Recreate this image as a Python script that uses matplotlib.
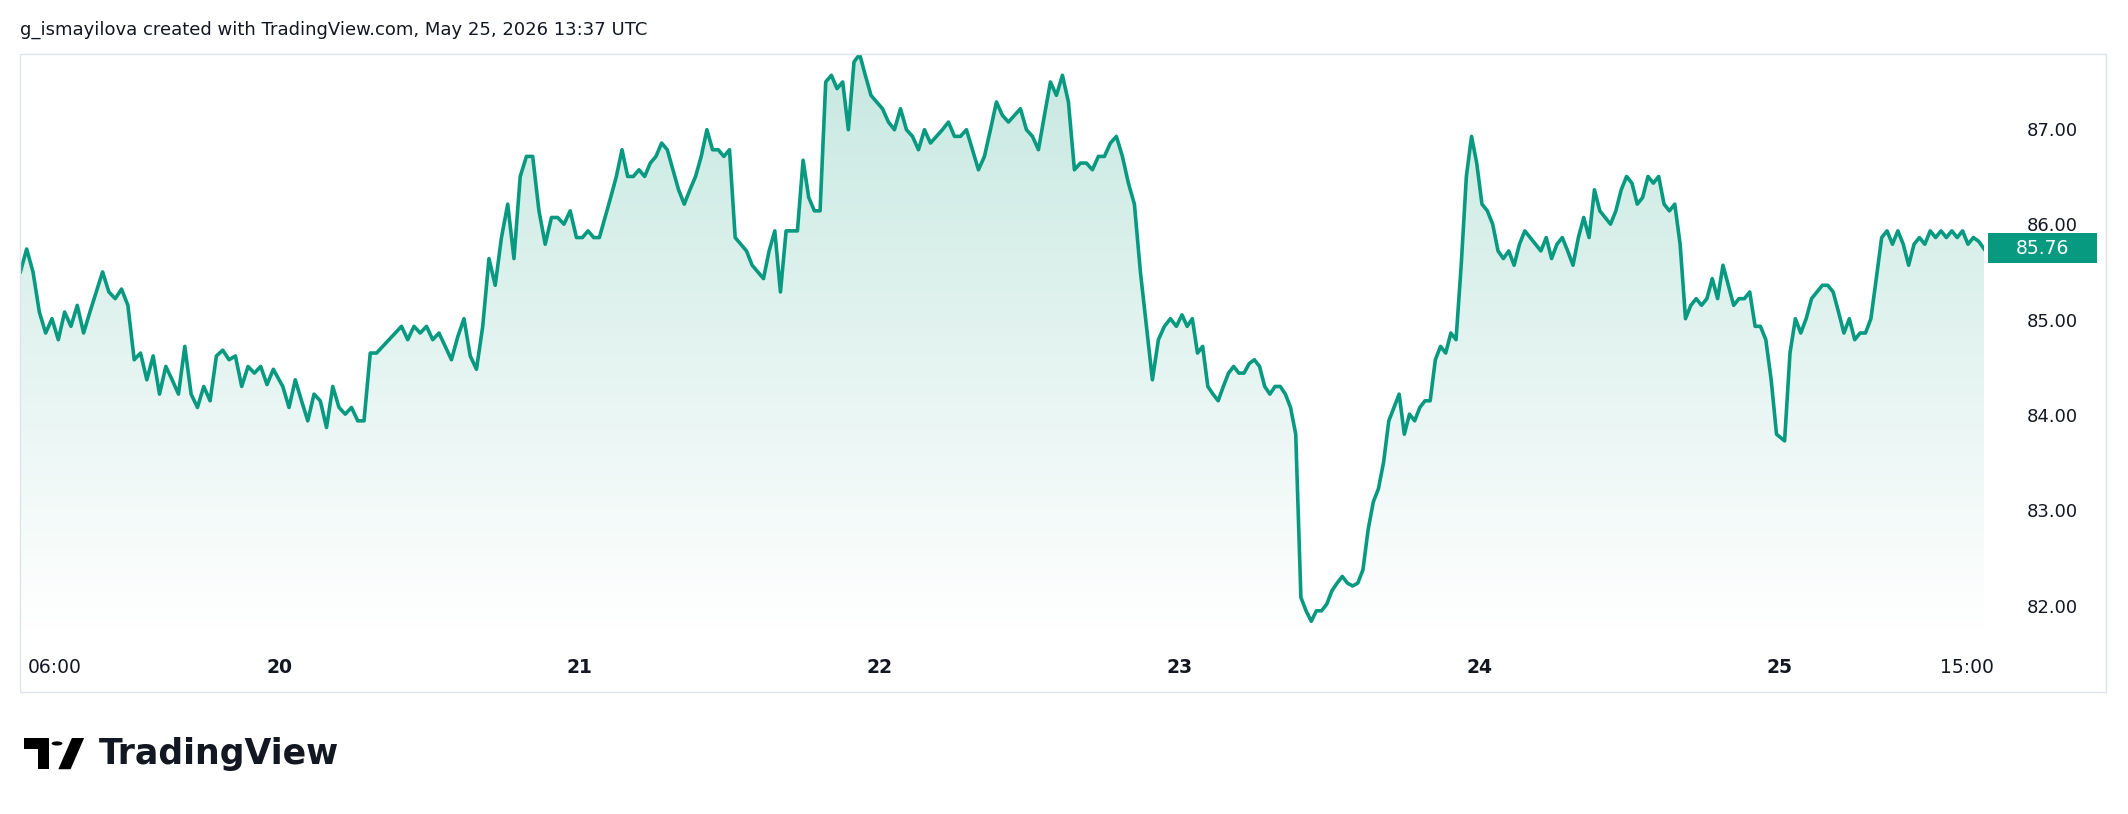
import numpy as np
import matplotlib
matplotlib.use("Agg")
import matplotlib.pyplot as plt
from matplotlib.patches import Rectangle, Polygon, Circle

# price segments per day (hours since 19 May 00:00)
day19 = [85.52,85.76,85.52,85.10,84.88,85.03,84.81,85.10,84.95,85.17,84.88,85.10,85.31,85.52,85.31,85.24,85.34,85.17,84.60,84.67,84.39,84.64,84.24,84.53,84.39,84.24,84.74,84.24,84.10,84.32,84.17,84.64,84.70,84.60,84.64,84.32,84.53,84.46,84.53,84.34,84.50]
day20 = [84.32,84.10,84.39,84.17,83.96,84.24,84.17,83.89,84.32,84.10,84.03,84.10,83.96,83.96,84.67,84.67,84.74,84.81,84.88,84.95,84.81,84.95,84.88,84.95,84.81,84.88,84.74,84.60,84.84,85.03,84.64,84.50,84.95,85.66,85.38,85.88,86.23,85.66,86.52,86.73,86.73,86.16,85.81,86.09,86.09,86.02,86.16,85.88]
day21 = [85.88,85.95,85.88,85.88,86.09,86.30,86.52,86.80,86.52,86.52,86.59,86.52,86.66,86.73,86.87,86.80,86.59,86.38,86.23,86.38,86.52,86.73,87.01,86.80,86.80,86.73,86.80,85.88,85.81,85.74,85.59,85.52,85.45,85.74,85.95,85.31,85.95,85.95,85.95,86.69,86.30,86.16,86.16,87.51,87.58,87.44,87.51,87.01,87.72,87.80,87.58,87.37,87.30]
day22 = [87.23,87.09,87.01,87.23,87.01,86.94,86.80,87.01,86.87,86.94,87.01,87.09,86.94,86.94,87.01,86.80,86.59,86.73,87.01,87.30,87.16,87.09,87.16,87.23,87.01,86.94,86.80,87.16,87.51,87.37,87.58,87.30,86.59,86.66,86.66,86.59,86.73,86.73,86.87,86.94,86.73,86.45,86.23,85.52,84.95,84.39,84.81,84.95,85.03,84.95]
day23 = [85.07,84.95,85.03,84.67,84.74,84.32,84.24,84.17,84.32,84.46,84.53,84.46,84.46,84.56,84.60,84.53,84.32,84.24,84.32,84.32,84.24,84.10,83.82,82.11,81.97,81.86,81.97,81.97,82.04,82.18,82.26,82.33,82.26,82.23,82.26,82.40,82.82,83.11,83.25,83.53,83.96,84.10,84.24,83.82,84.03,83.96,84.10,84.17,84.17,84.60,84.74,84.67,84.88,84.81,85.59,86.52,86.94,86.66]
day24 = [86.23,86.16,86.02,85.74,85.66,85.74,85.59,85.81,85.95,85.88,85.81,85.74,85.88,85.66,85.81,85.88,85.74,85.59,85.88,86.09,85.88,86.38,86.16,86.09,86.02,86.16,86.38,86.52,86.45,86.23,86.30,86.52,86.45,86.52,86.23,86.16,86.23,85.81,85.03,85.17,85.24,85.17,85.24,85.45,85.24,85.59,85.38,85.17,85.24,85.24,85.31,84.95,84.95,84.81,84.39,83.82]
day25 = [83.75,84.67,85.03,84.88,85.03,85.24,85.31,85.38,85.38,85.31,85.10,84.88,85.03,84.81,84.88,84.88,85.03,85.45,85.88,85.95,85.81,85.95,85.81,85.59,85.81,85.88,85.81,85.95,85.88,85.95,85.88,85.95,85.88,85.95,85.81,85.88,85.84,85.76]
segments = [(3.25, 24, day19), (24, 48, day20), (48, 72, day21), (72, 96, day22),
            (96, 120, day23), (120, 144, day24), (144, 160.4, day25)]

x_ticks = [6, 24, 48, 72, 96, 120, 144, 159]
x_labels = ["06:00", "20", "21", "22", "23", "24", "25", "15:00"]
y_ticks = [82, 83, 84, 85, 86, 87]
last_price = 85.76

t, p = [], []
for i, (a, b, vals) in enumerate(segments):
    n = len(vals)
    if i == 0:
        tt = a + (b - a) * np.arange(n) / n
    elif i == len(segments) - 1:
        tt = a + (b - a) * (np.arange(n) + 1) / n
    else:
        tt = a + (b - a) * (np.arange(n) + 0.5) / n
    t.extend(tt); p.extend(vals)
t = np.array(t); p = np.array(p)

W, H = 1568, 600
fig = plt.figure(figsize=(21.28, 8.14), dpi=100)
L, R, T, B = 15/W, 1462/W, 1-40/H, 1-465/H
ax = fig.add_axes([L, B, R-L, T-B])
ymin, ymax = 81.76, 87.8
xmin, xmax = 3.25, 160.4
ax.set_xlim(xmin, xmax); ax.set_ylim(ymin, ymax)

green = "#089981"
grad = np.linspace(0.02, 0.30, 256).reshape(-1, 1)
from matplotlib.colors import LinearSegmentedColormap
cmap = LinearSegmentedColormap.from_list("g", [(1,1,1), (0.78,0.91,0.88)])
im = ax.imshow(grad, extent=[xmin, xmax, ymin, ymax], origin="lower", aspect="auto",
               cmap=cmap, vmin=0.02, vmax=0.30, zorder=1)
poly = Polygon(np.column_stack([np.r_[t[0], t, t[-1]], np.r_[ymin, p, ymin]]),
               closed=True, transform=ax.transData, facecolor="none", edgecolor="none")
ax.add_patch(poly)
im.set_clip_path(poly)
ax.plot(t, p, color=green, lw=2.6, zorder=3)

for s in ax.spines.values():
    s.set_visible(False)
ax.set_xticks([]); ax.set_yticks([])

# outer frame
fig.add_artist(Rectangle((15/W, 1-510/H), (1552-15)/W, 470/H, transform=fig.transFigure,
                         fill=False, edgecolor="#e0e3eb", lw=1))
# y labels
for v in y_ticks:
    ax.text((1512/W - L)/(R-L), v, f"{v:.2f}", transform=ax.get_yaxis_transform(),
            ha="center", va="center", fontsize=13, color="#131722", family="DejaVu Sans")
# x labels
for v, lab in zip(x_ticks, x_labels):
    bold = lab.isdigit()
    ax.text(v, (1-492/H - B)/(T-B), lab, transform=ax.get_xaxis_transform(),
            ha="center", va="center", fontsize=13.5, color="#131722",
            fontweight="bold" if bold else "normal")
# last price tag
by = 1 - 183/H
fig.add_artist(Rectangle((1465/W, by-11/H), 80/W, 22/H, transform=fig.transFigure,
                         facecolor=green, edgecolor="none"))
fig.text(1505/W, by, f"{last_price:.2f}", ha="center", va="center", fontsize=13.5, color="white")

fig.text(15/W, 1-22/H, "g_ismayilova created with TradingView.com, May 25, 2026 13:37 UTC",
         ha="left", va="center", fontsize=13, color="#131722")

# logo
s = 1/W; h = 1/H
fig.add_artist(Polygon([(18*s, 1-544*h), (36*s, 1-544*h), (36*s, 1-567*h), (28*s, 1-567*h),
                        (28*s, 1-552*h), (18*s, 1-552*h)], closed=True,
                       transform=fig.transFigure, facecolor="black"))
fig.add_artist(Circle((42*s, 1-548*h), 4*s, transform=fig.transFigure, facecolor="black"))
fig.add_artist(Polygon([(53*s, 1-544*h), (62*s, 1-544*h), (52*s, 1-567*h), (43*s, 1-567*h)],
                       closed=True, transform=fig.transFigure, facecolor="black"))
fig.text(73/W, 1-556/H, "TradingView", ha="left", va="center", fontsize=25,
         fontweight="bold", color="#131722")

fig.savefig("out.png", dpi=100, facecolor="white")
